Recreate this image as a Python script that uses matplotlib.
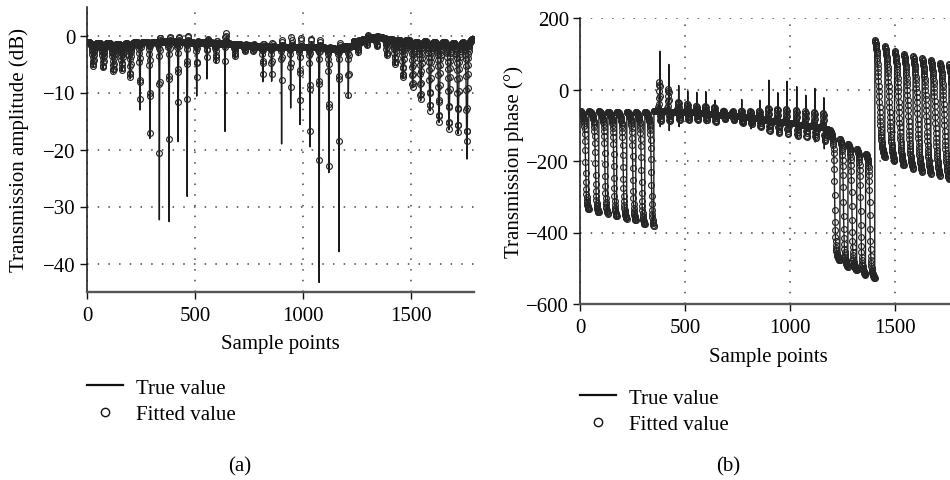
import matplotlib.pyplot as plt
import numpy as np
from matplotlib.lines import Line2D

plt.rcParams['font.family'] = ['Liberation Serif', 'DejaVu Serif']
plt.rcParams['font.size'] = 15

# ---- transmission amplitude: one entry per resonance dip ----
amp_centre = [29, 75, 122, 162, 200, 245, 291, 335, 380, 422, 464, 508, 555, 597,
              639, 685, 731, 770, 814, 855, 901, 943, 986, 1032, 1075, 1120, 1167,
              1210, 1256, 1297, 1342, 1388, 1426, 1463, 1508, 1545, 1588, 1630,
              1676, 1718, 1759]
amp_level = [-1.0, -1.0, -1.0, -1.0, -1.0, -1.0, -1.0, -1.0, -1.0, -1.1, -1.1, -1.2,
             -1.2, -1.3, -1.4, -1.5, -1.7, -1.8, -1.9, -2.0, -2.0, -2.0, -2.0, -2.0,
             -2.0, -2.1, -2.4, -1.8, -1.0, -0.5, -0.2, -0.3, -0.3, -0.3, -0.3, -0.3,
             -0.3, -0.3, -0.3, -0.3, -0.3]
amp_true_min = [-5.5, -5.8, -6.5, -6.2, -7.5, -13.0, -18.0, -32.3, -32.6, -18.6, -28.2,
                -10.6, -7.6, -4.8, -16.8, -4.0, -2.8, -2.8, -8.1, -8.0, -19.0, -12.7,
                -15.6, -19.5, -43.3, -24.0, -37.9, -11.0, -3.5, -2.0, -2.2, -3.8, -5.0,
                -7.4, -9.0, -11.2, -13.0, -15.0, -16.3, -17.0, -21.5]
amp_fit_min = [-5.3, -5.6, -6.2, -6.0, -7.3, -11.4, -17.4, -20.9, -18.5, -12.0, -11.5,
               -7.5, -4.0, -4.5, -4.8, -3.8, -2.8, -2.8, -7.0, -7.0, -8.1, -9.6, -11.8,
               -17.4, -22.3, -23.3, -18.8, -10.7, -3.0, -1.8, -2.0, -3.5, -5.0, -7.3,
               -9.0, -11.0, -13.0, -15.0, -16.3, -16.8, -18.5]
amp_fit_max = [-0.6, -0.6, -0.5, -0.5, -0.3, 0.2, 0.5, 0.9, 0.9, 0.9, 0.7, -0.2, -0.4,
               0.0, 0.6, -0.8, -1.2, -1.2, -0.8, -0.6, -0.4, 0.5, 0.6, 1.0, 0.2, -0.2,
               -0.5, -0.8, -0.2, 0.5, 0.5, 0.1, 0.1, 0.1, 0.1, 0.1, 0.1, 0.1, 0.1, 0.1,
               0.1]
amp_width = [4.0, 4.0, 4.0, 4.0, 3.0, 1.5, 1.2, 0.8, 0.8, 1.0, 0.8, 1.2, 1.0, 2.0, 0.6,
             2.0, 2.0, 2.0, 1.2, 1.2, 0.8, 1.0, 1.0, 1.0, 0.7, 1.0, 0.7, 1.2, 2.0, 2.0,
             2.0, 2.5, 3.5, 3.5, 3.5, 3.5, 3.5, 3.5, 3.5, 3.5, 3.0]

# ---- transmission phase: one entry per sweep block ----
ph_edge = [0, 42, 90, 133, 175, 223, 266, 309,
           352, 396, 440, 483, 527, 571, 614, 658, 702, 746, 790, 833, 877, 921,
           965, 1009, 1053, 1097, 1141,
           1185, 1238, 1276, 1318, 1360,
           1404, 1452, 1498, 1542, 1586, 1629, 1671, 1714, 1757, 1800]
ph_top = [-60, -61, -61, -62, -62, -62, -63, -63,
          -60, -60, -62, -63, -64, -66, -68, -70, -72, -75, -77, -80, -84, -88,
          -91, -94, -98, -101, -105,
          -112, -138, -152, -166, -180,
          138, 121, 107, 99, 93, 88, 83, 75, 70]
ph_bottom = [-335, -344, -347, -355, -361, -366, -377, -383,
             -60, -62, -63, -64, -66, -68, -70, -72, -75, -77, -80, -84, -88, -91,
             -94, -98, -101, -105, -112,
             -478, -496, -505, -518, -527,
             -190, -200, -212, -222, -230, -236, -242, -250, -255]
ph_centre = [26, 73, 118, 161, 205, 251, 292, 339,
             381, 424, 471, 514, 557, 600, 643, 686, 729, 771, 814, 857, 900, 943,
             986, 1033, 1076, 1119, 1162,
             1212, 1254, 1294, 1336, 1380,
             1424, 1472, 1518, 1562, 1606, 1649, 1691, 1734, 1777]
ph_width = [3] * 8 + [3] * 19 + [3] * 5 + [9] * 9

# small resonances riding on the flat part of the phase
spike_pos = [381, 424, 471, 514, 557, 600, 643, 686, 729, 771, 814, 857, 900, 943,
             986, 1033, 1076, 1119, 1162]
spike_hi = [107, 70, 11, -5, -8, -6, -30, -52, -55, -28, -58, -30, 26, -9, 23, 8,
            -16, 3, -23]
spike_lo = [-104, -115, -104, -90, -85, -96, -90, -80, -82, -100, -110, -100, -112,
            -124, -110, -132, -124, -147, -166]
fit_hi = [20, 0, -35, -40, -46, -48, -50, -60, -62, -60, -62, -60, -52, -55, -56,
          -58, -62, -64, -68]
fit_lo = [-88, -88, -84, -84, -84, -86, -90, -82, -84, -92, -96, -104, -116, -120,
          -124, -128, -132, -134, -142]

n = np.arange(0, 1791)


def lorentz(x):
    return 1.0 / (1.0 + x ** 2)


def kick(x):
    # odd pulse: +1 at x = -1, -1 at x = +1
    return -x * np.exp((1.0 - x ** 2) / 2.0)


def amplitude_curves():
    centre = np.asarray(amp_centre)
    nearest = np.abs(n[:, None] - centre[None, :]).argmin(axis=1)
    base = np.asarray(amp_level)[nearest]
    true = base.copy()
    fit = base.copy()
    for c, lvl, lo, flo, fhi, w in zip(amp_centre, amp_level, amp_true_min,
                                        amp_fit_min, amp_fit_max, amp_width):
        true += (lo - lvl) * lorentz((n - c) / w)
        fit += (flo - lvl) * lorentz((n - c) / w)
        if fhi > lvl:
            fit += (fhi - lvl) * lorentz((n - c - 3) / 1.5)
    return true, fit


def phase_curves():
    true = np.zeros(n.size)
    for k in range(len(ph_top)):
        a, b = ph_edge[k], min(ph_edge[k + 1], n.size)
        if a >= n.size:
            break
        m = np.arange(a, ph_edge[k + 1])
        s = np.arctan((m - ph_centre[k]) / ph_width[k])
        s = (s - s[0]) / (s[-1] - s[0])
        seg = ph_top[k] + (ph_bottom[k] - ph_top[k]) * s
        true[a:b] = seg[:b - a]
    fit = true.copy()
    for c, hi, lo, fh, fl in zip(spike_pos, spike_hi, spike_lo, fit_hi, fit_lo):
        b0 = true[c]
        kf = kick((n - c) / 3.0)
        broad = np.where(kf > 0, (fh - b0) * kf, (b0 - fl) * kf)
        fit += broad
        true += 0.5 * broad
        # narrow spike: tips land exactly on the listed extremes
        true[c - 1] = hi
        true[c + 1] = lo
    return true, fit


def style_axes(ax):
    for side in ('top', 'right'):
        ax.spines[side].set_visible(False)
    ax.spines['left'].set_color('#111111')
    ax.spines['left'].set_linewidth(1.1)
    ax.spines['bottom'].set_color('#555555')
    ax.spines['bottom'].set_linewidth(1.7)
    ax.tick_params(axis='both', direction='out', length=5, width=1.0,
                   color='#111111', labelsize=15)
    ax.tick_params(axis='x', pad=5)
    ax.tick_params(axis='y', pad=3)
    ax.grid(True, color='#444444', linewidth=1.1, linestyle=(0, (1, 6)))
    ax.set_axisbelow(True)


def draw(ax, true, fit):
    ax.plot(n, true, color='#1a1a1a', linewidth=1.0, zorder=2)
    ax.plot(n, fit, linestyle='none', marker='o', markersize=4.2,
            markerfacecolor='none', markeredgecolor='#262626',
            markeredgewidth=0.85, zorder=3)


def add_legend(ax, fig, x0, y0):
    handles = [Line2D([], [], color='#111111', linewidth=1.6),
               Line2D([], [], linestyle='none', marker='o', markersize=6,
                      markerfacecolor='none', markeredgecolor='#111111',
                      markeredgewidth=1.0)]
    ax.legend(handles, ['True value', 'Fitted value'], loc='upper left',
              bbox_to_anchor=(x0, y0), bbox_transform=fig.transFigure,
              frameon=False, borderpad=0, borderaxespad=0, handlelength=1.75,
              handletextpad=0.6, labelspacing=0.35, fontsize=15)


W, H = 950, 481
fig = plt.figure(figsize=(W / 100, H / 100), dpi=100)

# (a) amplitude
ax1 = fig.add_axes([87 / W, 1 - 293 / H, 386.6 / W, 285 / H])
amp_true, amp_fit = amplitude_curves()
draw(ax1, amp_true, amp_fit)
ax1.set_xlim(0, 1790)
ax1.set_ylim(-45, 5)
ax1.set_xticks([0, 500, 1000, 1500])
ax1.set_yticks([-40, -30, -20, -10, 0])
style_axes(ax1)
ax1.set_xlabel('Sample points')
ax1.xaxis.set_label_coords(0.5, -0.147)
ax1.set_ylabel('Transmission amplitude (dB)')
ax1.yaxis.set_label_coords(-0.150, 0.5)
add_legend(ax1, fig, 87 / W, 1 - 379 / H)
fig.text(240 / W, 1 - 467 / H, '(a)', ha='center', va='center', fontsize=15)

# (b) phase
ax2 = fig.add_axes([580 / W, 1 - 305 / H, 376 / W, 286 / H])
ph_true, ph_fit = phase_curves()
draw(ax2, ph_true, ph_fit)
ax2.set_xlim(0, 1790)
ax2.set_ylim(-600, 200)
ax2.set_xticks([0, 500, 1000, 1500])
ax2.set_yticks([-600, -400, -200, 0, 200])
style_axes(ax2)
ax2.set_xlabel('Sample points')
ax2.xaxis.set_label_coords(0.5, -0.150)
ax2.set_ylabel('Transmission phase (°)')
ax2.yaxis.set_label_coords(-0.149, 0.5)
add_legend(ax2, fig, 580 / W, 1 - 389 / H)
fig.text(728 / W, 1 - 467 / H, '(b)', ha='center', va='center', fontsize=15)

fig.savefig('out.png', dpi=100)
